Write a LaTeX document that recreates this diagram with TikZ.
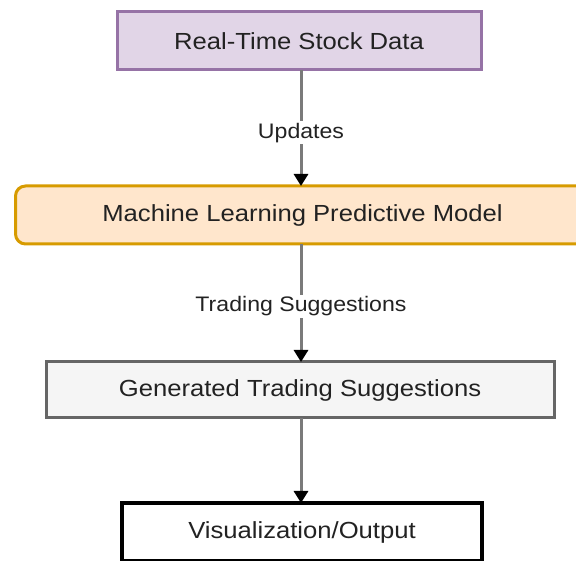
\documentclass[tikz,border=0pt]{standalone}
\usepackage{fontspec}
\setmainfont[FakeStretch=1.1]{Liberation Sans}
\usetikzlibrary{arrows.meta}
\definecolor{purpfill}{HTML}{E1D5E7}
\definecolor{purpline}{HTML}{9673A6}
\definecolor{orfill}{HTML}{FFE6CC}
\definecolor{orline}{HTML}{D79B00}
\definecolor{grfill}{HTML}{F5F5F5}
\definecolor{grline}{HTML}{666666}
\definecolor{txt}{HTML}{222222}
\definecolor{conn}{HTML}{7A7A7A}
\begin{document}
\begin{tikzpicture}[x=1pt,y=1pt,
  boxstyle/.style={draw, line width=3pt, minimum height=58pt, inner sep=0pt,
    font=\fontsize{23.3}{27}\selectfont, text=txt},
  flow/.style={draw=conn, line width=3pt, -{Triangle[length=12pt,width=14pt,color=black]}},
  lbl/.style={fill=white, inner sep=2pt, font=\fontsize{21}{25}\selectfont, text=txt}]
\useasboundingbox (0,0) rectangle (576,561);
\begin{scope}
\clip (0,0) rectangle (576,561);
\node[boxstyle, draw=purpline, fill=purpfill, minimum width=364pt] (a) at (299,520) {Real-Time Stock Data};
\node[boxstyle, draw=orline, fill=orfill, minimum width=574pt, rounded corners=10pt, anchor=west] (b) at (14,346) {\hspace*{-288pt}Machine Learning Predictive Model\hspace*{-288pt}};
\node[boxstyle, draw=grline, fill=grfill, minimum width=508pt, minimum height=56pt] (c) at (300,171) {Generated Trading Suggestions};
\node[boxstyle, draw=black, fill=white, minimum width=360pt, line width=3.5pt] (d) at (302,29) {Visualization/Output};
\end{scope}
\coordinate (a1) at (301,491);
\coordinate (b0) at (301,375);
\coordinate (b1) at (301,317);
\coordinate (c0) at (301,199);
\coordinate (c1) at (301,143);
\coordinate (d0) at (301,58);
\draw[flow] (a1) -- node[lbl, pos=0.54] {Updates} (b0);
\draw[flow] (b1) -- node[lbl, pos=0.53] {Trading Suggestions} (c0);
\draw[flow] (c1) -- (d0);
\end{tikzpicture}
\end{document}
